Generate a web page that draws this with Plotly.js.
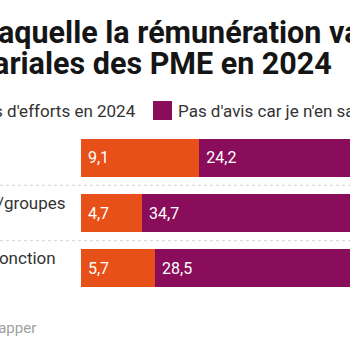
<!DOCTYPE html>
<html>
<head>
<meta charset="utf-8">
<script src="https://cdn.plot.ly/plotly-3.0.1.min.js"></script>
<style>
html,body{margin:0;padding:0;background:#fff;overflow:hidden;}
#chart{width:350px;height:350px;}
</style>
</head>
<body>
<div id="chart"></div>
<script>
// Data
const rowIds = ["r1", "r2", "r3"];
const rowLabels = ["", "/groupes", "fonction"];
const seriesNames = ["Moins d'efforts en 2024", "Pas d'avis car je n'en sais rien"];
const seriesA = [9.1, 4.7, 5.7];
const seriesB = [24.2, 34.7, 28.5];
const colors = ["#E8501A", "#8A0D5B"];

const W = 350, H = 350;
const M = {l: 81, r: 0, t: 130, b: 54};
const PW = W - M.l - M.r, PH = H - M.t - M.b;
const px = x => (x - M.l) / PW;        // pixel -> paper x
const py = y => (H - M.b - y) / PH;    // pixel -> paper y

const font = "Roboto, 'Open Sans', sans-serif";
const labelEnds = [68, 68, 58];

const mk = (vals, i) => ({
  type: "bar", orientation: "h",
  y: rowIds, x: vals, name: seriesNames[i],
  marker: {color: colors[i], line: {width: 0}},
  texttemplate: "\u00a0%{x:.1f}",
  textposition: "inside", insidetextanchor: "start",
  textfont: {family: font, size: 16, color: "#ffffff"},
  constraintext: "none",
  hoverinfo: "skip"
});

const data = [mk(seriesA, 0), mk(seriesB, 1)];

const ann = [];
// title lines (cropped in the reference)
ann.push({xref: "paper", yref: "paper", x: px(-4), y: py(32), xanchor: "left", yanchor: "middle",
  text: "<b>aquelle la rémunération varie</b>", showarrow: false,
  font: {family: font, size: 30.5, color: "#151515"}});
ann.push({xref: "paper", yref: "paper", x: px(334), y: py(64), xanchor: "right", yanchor: "middle",
  text: "<b>salariales des PME en 2024</b>", showarrow: false,
  font: {family: font, size: 30.5, color: "#151515"}});
// legend
ann.push({xref: "paper", yref: "paper", x: px(138), y: py(111), xanchor: "right", yanchor: "middle",
  text: seriesNames[0], showarrow: false, font: {family: font, size: 17, color: "#333"}});
ann.push({xref: "paper", yref: "paper", x: px(176), y: py(111), xanchor: "left", yanchor: "middle",
  text: seriesNames[1], showarrow: false, font: {family: font, size: 17, color: "#333"}});
// row labels
rowLabels.forEach((t, i) => {
  if (!t) return;
  ann.push({xref: "paper", yref: "y", x: px(labelEnds[i]), y: rowIds[i], xanchor: "right", yanchor: "middle",
    yshift: 10, text: t, showarrow: false, font: {family: font, size: 17, color: "#333"}});
});
// footer
ann.push({xref: "paper", yref: "paper", x: px(38), y: py(328), xanchor: "right", yanchor: "middle",
  text: "Créé avec Datawrapper", showarrow: false, font: {family: font, size: 15, color: "#a0a0a0"}});

const shapes = [
  {type: "rect", xref: "paper", yref: "paper", x0: px(153), x1: px(172), y0: py(101), y1: py(120),
   fillcolor: colors[1], line: {width: 0}},
  {type: "line", xref: "paper", yref: "y", x0: px(0), x1: px(350), y0: 0.5, y1: 0.5,
   line: {color: "#d4d4d4", width: 1, dash: "dot"}},
  {type: "line", xref: "paper", yref: "y", x0: px(0), x1: px(350), y0: 1.5, y1: 1.5,
   line: {color: "#d4d4d4", width: 1, dash: "dot"}}
];

const layout = {
  width: W, height: H,
  margin: M,
  paper_bgcolor: "#fff", plot_bgcolor: "#fff",
  barmode: "stack", bargap: 0.31,
  separators: ", ",
  showlegend: false,
  font: {family: font},
  xaxis: {range: [0, PW / 13], visible: false, fixedrange: true},
  yaxis: {type: "category", categoryorder: "array", categoryarray: rowIds,
          autorange: "reversed", visible: false, fixedrange: true},
  annotations: ann,
  shapes: shapes
};

Plotly.newPlot("chart", data, layout, {displayModeBar: false, staticPlot: true});
</script>
</body>
</html>
